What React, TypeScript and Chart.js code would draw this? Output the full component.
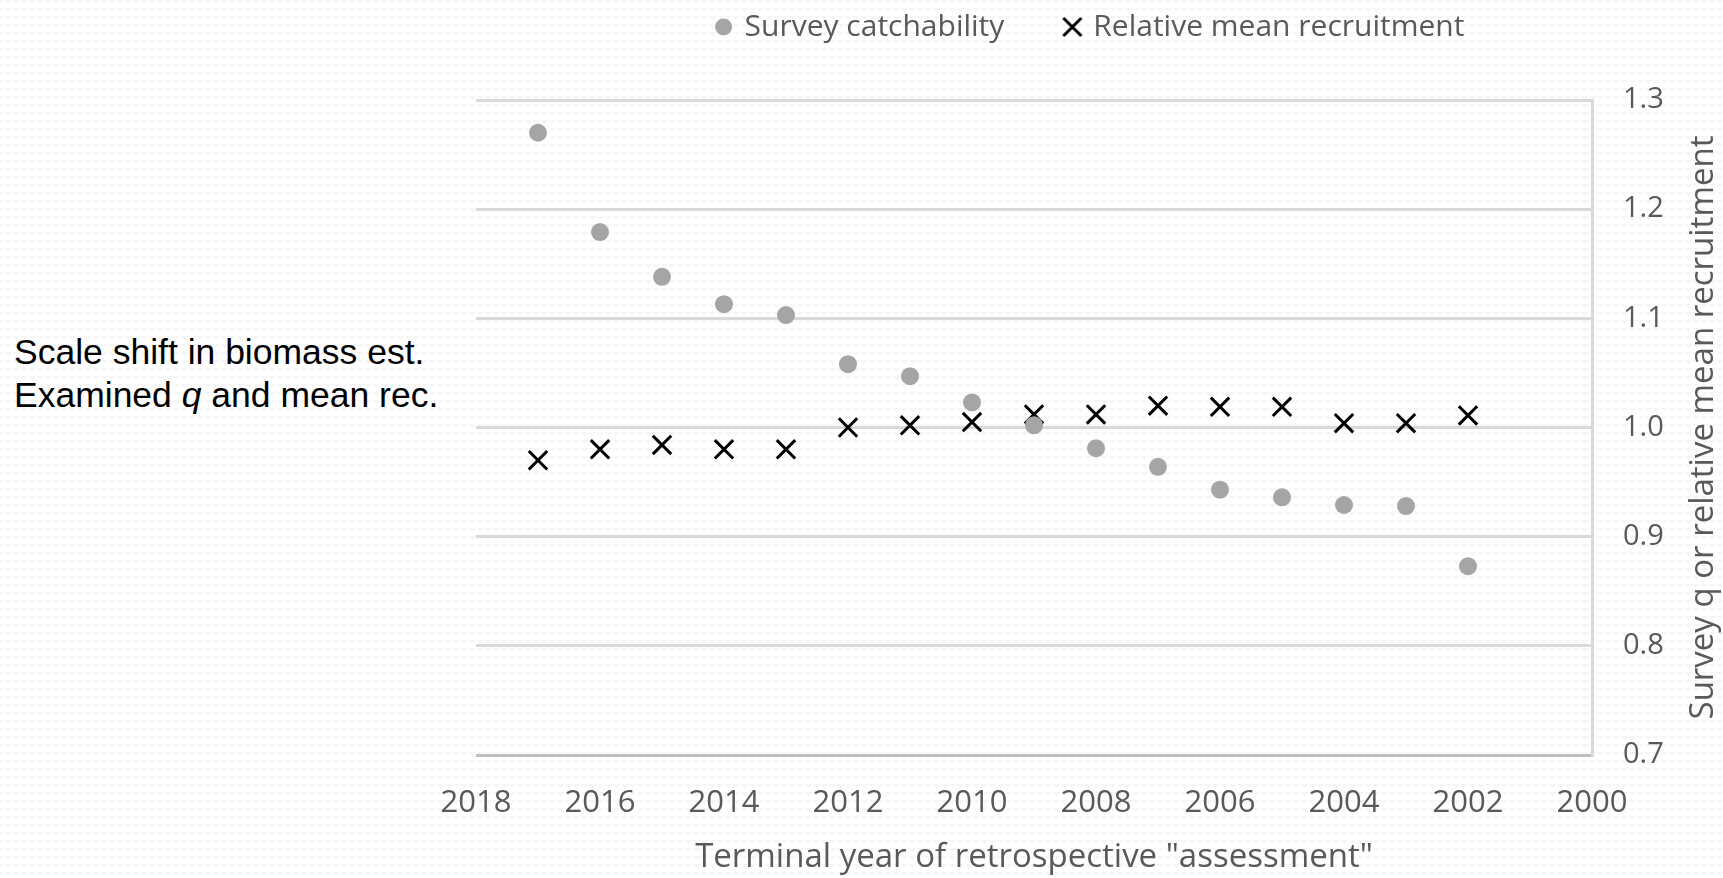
import { useEffect, useRef } from 'react';
import { Chart, registerables } from 'chart.js';

Chart.register(...registerables);

const years = [2017, 2016, 2015, 2014, 2013, 2012, 2011, 2010, 2009, 2008, 2007, 2006, 2005, 2004, 2003, 2002];
const catchability = [1.27, 1.179, 1.138, 1.113, 1.103, 1.058, 1.047, 1.023, 1.002, 0.981, 0.964, 0.943, 0.936, 0.929, 0.928, 0.873];
const recruitment = [0.97, 0.98, 0.984, 0.98, 0.98, 1.0, 1.002, 1.005, 1.012, 1.012, 1.02, 1.019, 1.019, 1.004, 1.004, 1.011];

const seriesNames = ['Survey catchability', 'Relative mean recruitment'];
const xTitle = 'Terminal year of retrospective "assessment"';
const yTitle = 'Survey q or relative mean recruitment';

const GREY_TEXT = '#595959';

function makeCrossIcon() {
  const c = document.createElement('canvas');
  c.width = 22;
  c.height = 22;
  const g = c.getContext('2d')!;
  g.strokeStyle = '#000';
  g.lineWidth = 3;
  g.beginPath();
  g.moveTo(2, 2);
  g.lineTo(20, 20);
  g.moveTo(20, 2);
  g.lineTo(2, 20);
  g.stroke();
  return c;
}

// extra room under the legend, the usual fit() patch
const legendSpace = {
  id: 'legendSpace',
  beforeInit(chart: any) {
    const fit = chart.legend.fit;
    chart.legend.fit = function () {
      fit.call(this);
      this.height = 150;
    };
  },
};

// right axis title reads bottom-to-top, which the built-in title won't do
const rightTitle = {
  id: 'rightTitle',
  afterDraw(chart: any) {
    const { ctx, chartArea } = chart;
    ctx.save();
    ctx.translate(chart.scales.y.right + 7, (chartArea.top + chartArea.bottom) / 2);
    ctx.rotate(-Math.PI / 2);
    ctx.font = '33px "Open Sans"';
    ctx.fillStyle = GREY_TEXT;
    ctx.textAlign = 'center';
    ctx.textBaseline = 'alphabetic';
    ctx.fillText(yTitle, 0, 0);
    ctx.restore();
  },
};

export default function App() {
  const canvasRef = useRef<HTMLCanvasElement | null>(null);

  useEffect(() => {
    if (!canvasRef.current) return;
    const crossIcon = makeCrossIcon();

    const chart = new Chart(canvasRef.current, {
      type: 'scatter',
      data: {
        datasets: [
          {
            label: seriesNames[0],
            data: years.map((x, i) => ({ x, y: catchability[i] })),
            pointStyle: 'circle',
            pointRadius: 9,
            backgroundColor: '#a5a5a5',
            borderWidth: 0,
          },
          {
            label: seriesNames[1],
            data: years.map((x, i) => ({ x, y: recruitment[i] })),
            pointStyle: 'crossRot',
            pointRadius: 13,
            borderColor: '#000000',
            backgroundColor: '#000000',
            borderWidth: 3,
          },
        ],
      },
      options: {
        animation: false,
        responsive: true,
        maintainAspectRatio: false,
        events: [],
        layout: { padding: { left: 476, right: 17, top: -50, bottom: 0 } },
        plugins: {
          tooltip: { enabled: false },
          legend: {
            position: 'top',
            labels: {
              usePointStyle: true,
              boxHeight: 12,
              boxWidth: 12,
              padding: 62,
              color: GREY_TEXT,
              font: { family: '"Open Sans"', size: 30 },
              generateLabels: (c: any) => {
                const items = Chart.defaults.plugins.legend.labels.generateLabels(c);
                items[1].pointStyle = crossIcon;
                return items;
              },
            },
          },
        },
        scales: {
          x: {
            type: 'linear',
            reverse: true,
            min: 2000,
            max: 2018,
            grid: { display: false, drawTicks: false },
            border: { display: false },
            ticks: {
              stepSize: 2,
              padding: 30,
              color: GREY_TEXT,
              font: { family: '"Open Sans"', size: 31 },
              callback: (v: any) => String(v),
            },
            title: {
              display: true,
              text: xTitle,
              color: GREY_TEXT,
              font: { family: '"Open Sans"', size: 33 },
              padding: { top: 0, bottom: 1 },
            },
            afterFit: (s: any) => {
              s.height = 123;
            },
          },
          y: {
            type: 'linear',
            position: 'right',
            min: 0.7,
            max: 1.3,
            grid: {
              drawTicks: false,
              lineWidth: 3,
              color: (ctx: any) => (Math.abs(ctx.tick.value - 0.7) < 1e-6 ? '#bfbfbf' : '#d9d9d9'),
            },
            border: { display: true, color: '#d9d9d9', width: 3 },
            ticks: {
              stepSize: 0.1,
              padding: 31,
              color: GREY_TEXT,
              font: { family: '"Open Sans"', size: 29 },
              callback: (v: any) => Number(v).toFixed(1),
            },
            afterFit: (s: any) => {
              s.width = 114;
            },
          },
        },
      },
      plugins: [legendSpace, rightTitle],
    });

    return () => chart.destroy();
  }, []);

  return (
    <div
      style={{
        position: 'fixed',
        left: 0,
        top: 0,
        width: 1723,
        height: 878,
        backgroundColor: '#ffffff',
        backgroundImage:
          'linear-gradient(135deg, #f6f6f6 25%, transparent 25%), linear-gradient(225deg, #f6f6f6 25%, transparent 25%)',
        backgroundSize: '8px 8px',
      }}
    >
      <div
        style={{
          position: 'absolute',
          left: 14,
          top: 331,
          font: '35.5px "Liberation Sans", Arial, sans-serif',
          lineHeight: '43px',
          color: '#000',
          whiteSpace: 'nowrap',
        }}
      >
        Scale shift in biomass est.
        <br />
        Examined <i>q</i> and mean rec.
      </div>
      <div style={{ position: 'absolute', left: 0, top: 0, width: 1723, height: 878 }}>
        <canvas ref={canvasRef} aria-label={yTitle} />
      </div>
    </div>
  );
}
